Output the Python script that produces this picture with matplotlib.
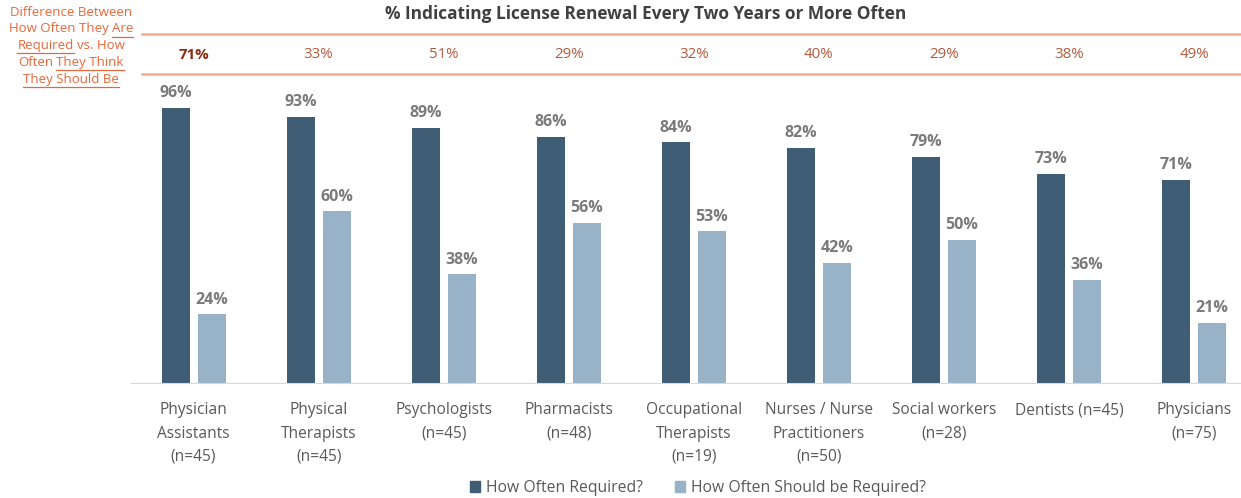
import matplotlib.pyplot as plt
from matplotlib.lines import Line2D
from matplotlib.patches import Patch
from matplotlib.transforms import blended_transform_factory
import numpy as np

plt.rcParams['font.family'] = ['Open Sans', 'DejaVu Sans']

categories = ['Physician\nAssistants\n(n=45)', 'Physical\nTherapists\n(n=45)',
              'Psychologists\n(n=45)', 'Pharmacists\n(n=48)',
              'Occupational\nTherapists\n(n=19)', 'Nurses / Nurse\nPractitioners\n(n=50)',
              'Social workers\n(n=28)', 'Dentists (n=45)', 'Physicians\n(n=75)']
required = [96, 93, 89, 86, 84, 82, 79, 73, 71]
should_be = [24, 60, 38, 56, 53, 42, 50, 36, 21]
difference = [71, 33, 51, 29, 32, 40, 29, 38, 49]

DARK = '#3f5d74'
LIGHT = '#98b2c7'
ORANGE = '#f6a98a'
W, H = 1241, 498

fig = plt.figure(figsize=(W / 100, H / 100), dpi=100)
ax = fig.add_axes([131 / W, (H - 383) / H, (1241 - 131) / W, (383 - 35) / H])

x = np.arange(len(categories))
ax.bar(x - 0.144, required, width=0.224, color=DARK)
ax.bar(x + 0.144, should_be, width=0.224, color=LIGHT)

for i in range(len(x)):
    ax.text(x[i] - 0.144, required[i] + 2.3, f'{required[i]}%', ha='center', va='bottom',
            fontsize=11.5, fontweight='bold', color='#7a7a7a')
    ax.text(x[i] + 0.144, should_be[i] + 2.3, f'{should_be[i]}%', ha='center', va='bottom',
            fontsize=11.5, fontweight='bold', color='#7a7a7a')

ax.set_xlim(-0.5, (1241 - 194) / 125)
ax.set_ylim(0, (383 - 35) / 2.865)
ax.set_xticks(x)
ax.set_xticklabels(categories, fontsize=11.2, color='#595959', linespacing=1.6, va='top')
ax.tick_params(axis='x', length=0, pad=14)
ax.set_yticks([])
for s in ['top', 'right', 'left']:
    ax.spines[s].set_visible(False)
ax.spines['bottom'].set_color('#d9d9d9')

# difference row
trans = blended_transform_factory(ax.transData, fig.transFigure)
for i in range(len(x)):
    ax.text(x[i], 1 - 55 / H, f'{difference[i]}%', transform=trans, ha='center', va='center',
            fontsize=10.8, color='#8b2a10' if i == 0 else '#b35a3c',
            fontweight='bold' if i == 0 else 'normal', clip_on=False)

for yy in [34, 74]:
    fig.add_artist(Line2D([142 / W, 1], [1 - yy / H, 1 - yy / H], color=ORANGE, lw=1.8))

fig.text(646 / W, 1 - 14 / H, '% Indicating License Renewal Every Two Years or More Often',
         ha='center', va='center', fontsize=12.4, fontweight='bold', color='#404040')

# left note with underlined parts
note_color = '#e8673a'
note_lines = [[('Difference Between', False)],
              [('How Often They', False), ('Are', True)],
              [('Required', True), ('vs. How', False)],
              [('Often', False), ('They Think', True)],
              [('They Should Be', True)]]
renderer = fig.canvas.get_renderer()
space = 3.2

for k, parts in enumerate(note_lines):
    yc = H - (12 + 16.8 * k)
    texts = [fig.text(0, yc / H, seg, ha='left', va='center', fontsize=9.5, color=note_color)
             for seg, _ in parts]
    widths = [t.get_window_extent(renderer).width for t in texts]
    total = sum(widths) + space * (len(parts) - 1)
    xpos = 71 - total / 2
    for t, wd, (seg, under) in zip(texts, widths, parts):
        t.set_x(xpos / W)
        if under:
            uy = (yc - 7.8) / H
            fig.add_artist(Line2D([xpos / W, (xpos + wd) / W], [uy, uy], color=note_color, lw=0.9))
        xpos += wd + space

handles = [Patch(color=DARK, label='How Often Required?'),
           Patch(color=LIGHT, label='How Often Should be Required?')]
fig.legend(handles=handles, loc='center', bbox_to_anchor=(698 / W, 1 - 488 / H), ncol=2,
           frameon=False, fontsize=11.3, handlelength=0.65, handleheight=0.65,
           handletextpad=0.4, columnspacing=2.0, labelcolor='#595959')

fig.savefig('out.png', dpi=100)
